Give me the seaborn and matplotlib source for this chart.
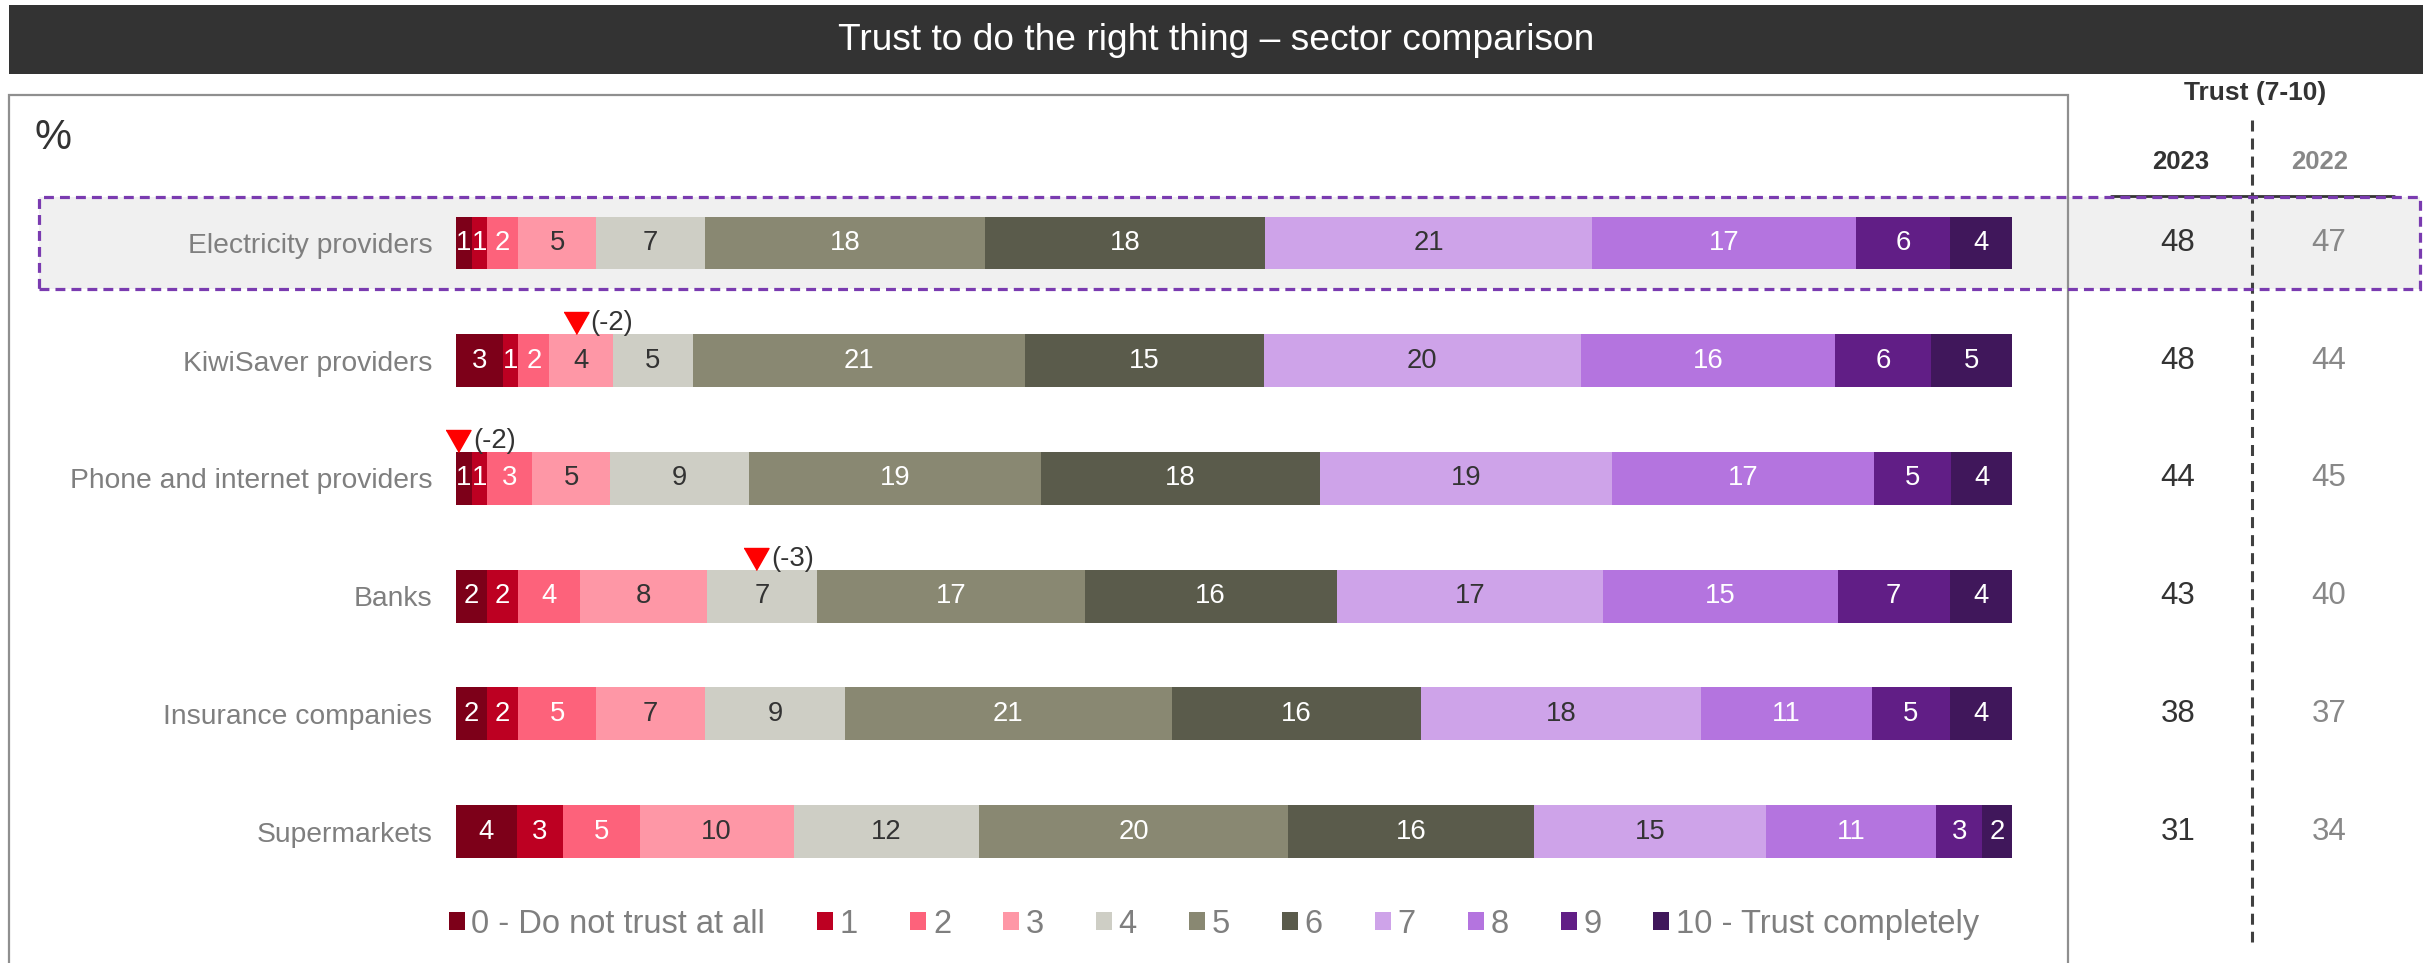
import numpy as np
import seaborn as sns
import matplotlib.pyplot as plt
from matplotlib.patches import Rectangle, Patch
from matplotlib.lines import Line2D
from matplotlib.transforms import blended_transform_factory

### CHART DATA
sectors = ["Electricity providers", "KiwiSaver providers", "Phone and internet providers",
           "Banks", "Insurance companies", "Supermarkets"]
scale_labels = ["0 - Do not trust at all", "1", "2", "3", "4", "5", "6", "7", "8", "9",
                "10 - Trust completely"]

# % of respondents giving each score 0..10
electricity = [1.0, 1.0, 2.0, 5.0, 7.0, 18.0, 18.0, 21.0, 17.0, 6.0, 4.0]
kiwisaver = [3.0, 1.0, 2.0, 4.1, 5.1, 21.4, 15.3, 20.4, 16.3, 6.2, 5.2]
phone_internet = [1.0, 1.0, 2.9, 5.0, 8.9, 18.8, 17.9, 18.8, 16.8, 5.0, 3.9]
banks = [2.0, 2.0, 4.0, 8.1, 7.1, 17.2, 16.2, 17.1, 15.1, 7.2, 4.0]
insurance = [2.0, 2.0, 5.0, 7.0, 9.0, 21.0, 16.0, 18.0, 11.0, 5.0, 4.0]
supermarkets = [3.9, 3.0, 4.9, 9.9, 11.9, 19.9, 15.8, 14.9, 10.9, 3.0, 1.9]

# Trust (7-10) summary
trust_2023 = [48, 48, 44, 43, 38, 31]
trust_2022 = [47, 44, 45, 40, 37, 34]

# significant drops vs 2022: sector, score it applies to, change
drop_sectors = ["KiwiSaver providers", "Phone and internet providers", "Banks"]
drop_scores = [3, 0, 4]
drop_values = [-2, -2, -3]

score_colors = ["#7d0019", "#bd0022", "#fd627b", "#fe97a6", "#cecec5", "#898872",
                "#5a5b4b", "#cea3e9", "#b474df", "#611e86", "#40175b"]
label_colors = ["white", "white", "white", "#333333", "#333333", "white",
                "white", "#333333", "white", "white", "white"]

### LAYOUT (pixels)
W, H, DPI = 2423, 963, 100
BAR_LEFT, BAR_RIGHT = 456, 2012
ROW0_Y, ROW_STEP = 243, 117.7
BAR_H = 0.45


def fx(px):
    return px / W


def fy(py):
    return 1 - py / H


sns.set_theme(style="white")
plt.rcParams["font.family"] = ["Liberation Sans", "DejaVu Sans"]

fig = plt.figure(figsize=(W / DPI, H / DPI), dpi=DPI)
fig.patch.set_facecolor("white")

ax = fig.add_axes([fx(BAR_LEFT), 0, (BAR_RIGHT - BAR_LEFT) / W, 1])
ax.patch.set_visible(False)

values = np.array([electricity, kiwisaver, phone_internet, banks, insurance, supermarkets])
cum = values.cumsum(axis=1)

# stacked bars: draw cumulative totals from the top score down
for k in reversed(range(len(scale_labels))):
    sns.barplot(x=cum[:, k], y=sectors, orient="h", color=score_colors[k],
                saturation=1, width=BAR_H, errorbar=None, ax=ax, linewidth=0)

# segment labels
for i in range(len(sectors)):
    for k in range(len(scale_labels)):
        v = values[i, k]
        ax.text(cum[i, k] - v / 2, i, f"{v:.0f}", ha="center", va="center",
                fontsize=19.8, color=label_colors[k])

# drop markers
for sector, score, change in zip(drop_sectors, drop_scores, drop_values):
    i = sectors.index(sector)
    xc = cum[i, score] - values[i, score] / 2 - 0.35
    yc = i - BAR_H / 2 - 11 / ROW_STEP
    ax.plot([xc], [yc], marker=[(-1, 0.88), (1, 0.88), (0, -0.88)], markersize=18,
            color="#ff0000", linestyle="none", clip_on=False)
    ax.text(xc + 0.95, yc, f"({change})", ha="left", va="center",
            fontsize=19.8, color="#333333")

ax.set_xlim(0, 100)
ax.set_ylim((H - ROW0_Y) / ROW_STEP, -ROW0_Y / ROW_STEP)
ax.set_xlabel("")
ax.set_ylabel("")
ax.set_xticks([])
ax.tick_params(axis="y", length=0, pad=17, labelsize=20.3, labelcolor="#7f7f7f")
for s in ax.spines.values():
    s.set_visible(False)

# title bar
fig.add_artist(Rectangle((fx(9), fy(74)), (W - 9) / W, 69 / H, transform=fig.transFigure,
                         facecolor="#333333", edgecolor="none", zorder=-2))
fig.text(fx(1216), fy(40), "Trust to do the right thing \u2013 sector comparison",
         ha="center", va="center", fontsize=26.7, color="white")

# grey frame around the bar chart
fig.add_artist(Rectangle((fx(9), fy(1000)), (2068 - 9) / W, (1000 - 95) / H,
                         transform=fig.transFigure, facecolor="none",
                         edgecolor="#8f8f8f", linewidth=1.6, zorder=-0.5))
fig.text(fx(35), fy(138), "%", ha="left", va="center", fontsize=30, color="#333333")

# highlighted first row
fig.add_artist(Rectangle((fx(39), fy(289)), (2420 - 39) / W, (289 - 197) / H,
                         transform=fig.transFigure, facecolor="#f0f0f0",
                         edgecolor="none", zorder=-1))
fig.add_artist(Rectangle((fx(39), fy(289)), (2420 - 39) / W, (289 - 197) / H,
                         transform=fig.transFigure, facecolor="none", edgecolor="#7a3bb0",
                         linewidth=2.3, linestyle=(0, (3.1, 1.9)), zorder=3))

# trust (7-10) table
fig.text(fx(2255), fy(93), "Trust (7-10)", ha="center", va="center", fontsize=19,
         fontweight="bold", color="#333333")
fig.text(fx(2181), fy(162), "2023", ha="center", va="center", fontsize=18.5,
         fontweight="bold", color="#333333")
fig.text(fx(2320), fy(162), "2022", ha="center", va="center", fontsize=18.5,
         fontweight="bold", color="#888888")
fig.add_artist(Line2D([fx(2111), fx(2394)], [fy(196), fy(196)], transform=fig.transFigure,
                      color="#333333", linewidth=2, zorder=2))
fig.add_artist(Line2D([fx(2252), fx(2252)], [fy(120), fy(942)], transform=fig.transFigure,
                      color="#404040", linewidth=2.2, linestyle=(0, (3.6, 2.3)), zorder=2))

tr = blended_transform_factory(fig.transFigure, ax.transData)
for i in range(len(sectors)):
    ax.text(fx(2178), i, str(trust_2023[i]), transform=tr, ha="center", va="center",
            fontsize=22.5, color="#333333")
    ax.text(fx(2329), i, str(trust_2022[i]), transform=tr, ha="center", va="center",
            fontsize=22.5, color="#888888")

# legend
handles = [Patch(facecolor=c, edgecolor="none") for c in score_colors]
fig.legend(handles, scale_labels, loc="center", bbox_to_anchor=(fx(1214), fy(924)),
           ncol=len(scale_labels), frameon=False, fontsize=23.5, labelcolor="#7f7f7f",
           handlelength=0.49, handleheight=0.49, handletextpad=0.2, columnspacing=1.6,
           borderpad=0, borderaxespad=0)

fig.savefig("out.png", dpi=DPI)
